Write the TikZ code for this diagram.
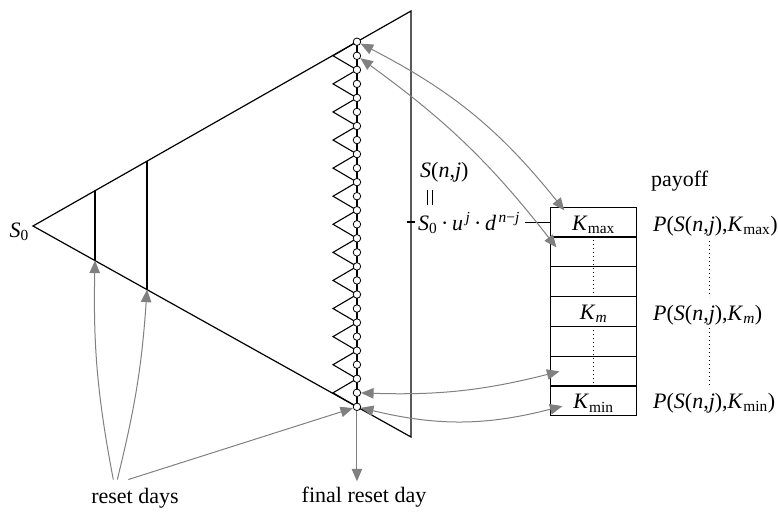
\documentclass[tikz,border=0pt]{standalone}
\usepackage{fontspec}
\setmainfont{Liberation Serif}
\usetikzlibrary{arrows.meta,calc}
\definecolor{arrgray}{gray}{0.5}
\begin{document}
\begin{tikzpicture}[x=1pt,y=-1pt, font=\fontsize{22}{26}\selectfont,
 edge/.style={line width=1.2pt},
 thin edge/.style={line width=1.1pt},
 tip/.style={Triangle[length=12.5pt,width=10.5pt]},
 arr/.style={draw=arrgray, line width=1pt, -{Triangle[length=12.5pt,width=10.5pt]}},
 arr2/.style={draw=arrgray, line width=1pt, {Triangle[length=12.5pt,width=10.5pt]}-{Triangle[length=12.5pt,width=10.5pt]}},
 dotnode/.style={circle, draw, fill=white, line width=0.8pt, minimum size=7.5pt, inner sep=0pt},
 cell/.style={draw, line width=1.2pt, minimum width=86pt, minimum height=29.8pt, inner sep=0pt, text height=16pt, text depth=0pt},
 dotline/.style={line width=0.7pt, dash pattern=on 0.7pt off 3.3pt},
 lbl/.style={inner sep=0pt}]
\useasboundingbox (0,0) rectangle (778,511);

% triangle
\coordinate (A) at (33,226);
\coordinate (T) at (411,11);
\coordinate (B) at (411,437);
\draw[edge] (T) -- (A) -- (B) -- cycle;

% reset lines
\coordinate (R1t) at ($(A)!0.164!(T)$);
\coordinate (R1b) at ($(A)!0.164!(B)$);
\coordinate (R2t) at ($(A)!0.3016!(T)$);
\coordinate (R2b) at ($(A)!0.3016!(B)$);
\draw[edge] (R1t) -- (R1b);
\draw[edge] (R2t) -- (R2b);

% column of nodes
\coordinate (CT) at ($(A)!0.857!(T)$);
\coordinate (CB) at ($(A)!0.857!(B)$);
\coordinate (LT) at ($(A)!0.7937!(T)$);
\foreach \k in {0,...,26} \coordinate (p\k) at ($(CT)!{\k/26}!(CB)$);
\draw[edge] (CT) -- (CB);
\draw[thin edge, line join=miter] (p0) \foreach \k [evaluate=\k as \n using int(\k+1)] in {1,3,...,25} { -- (LT |- p\k) -- (p\n) };
\foreach \k in {0,...,26} \node[dotnode] (c\k) at (p\k) {};

% S0
\node[lbl, anchor=base east] (s0) at (29,237) {\textit{S}\textsubscript{0}};

% S(n,j) labels
\node[lbl, anchor=base west] (snj) at (420,177) {\textit{S}(\textit{n},\textit{j})};
\draw[line width=0.9pt] (427,190) -- (427,205) (432,190) -- (432,205);
\node[lbl, anchor=base west] (form) at (418,230) {\textit{S}\textsubscript{0}\,·\,\textit{u}\textsuperscript{\,\textit{j}}\,·\,\textit{d}\textsuperscript{\,\textit{n}−\textit{j}}};
\draw[edge] (407,222) -- (415,222);

% strike table
\foreach \i/\t in {1/{\textit{K}\textsubscript{max}},2/{},3/{},4/{\textit{K}\textsubscript{\textit{m}}},5/{},6/{},7/{\textit{K}\textsubscript{min}}}
  \node[cell] (r\i) at (593.5,{222.1+(\i-1)*29.8}) {\t};
\draw[thin edge] ([xshift=5pt]form.east |- r1.west) -- (r1.west);
\draw[dotline] ([yshift=-4pt]r2.north) -- ([yshift=4pt]r3.south);
\draw[dotline] ([yshift=-4pt]r5.north) -- ([yshift=4pt]r6.south);

% payoff column
\node[lbl, anchor=base west] (po) at (651,186) {payoff};
\node[lbl, anchor=base west] (pmax) at (653,231.7) {\textit{P}(\textit{S}(\textit{n},\textit{j}),\textit{K}\textsubscript{max})};
\node[lbl, anchor=base west] (pm) at (653,320) {\textit{P}(\textit{S}(\textit{n},\textit{j}),\textit{K}\textsubscript{\textit{m}})};
\node[lbl, anchor=base west] (pmin) at (653,408.5) {\textit{P}(\textit{S}(\textit{n},\textit{j}),\textit{K}\textsubscript{min})};
\draw[dotline] (709,241) -- (709,297);
\draw[dotline] (709,328) -- (709,385);

% bottom labels
\node[lbl, inner ysep=8pt, anchor=base] (rd) at (135,503) {reset days};
\node[lbl, inner ysep=5pt, anchor=base] (frd) at (364,502) {final reset day};

% arrows
\draw[arr2] (c0) to[bend left=12] ([shift={(14.5,3.8)}]r1.north west);
\draw[arr2] (c1) to[bend left=8] ([shift={(6.5,11)}]r2.north west);
\draw[arr2] (c25) to[bend right=8] ([shift={(9.5,15.8)}]r6.north west);
\draw[arr2] (c26) to[bend right=14] ([shift={(12.5,20.7)}]r7.north west);

\draw[arr] ([xshift=-21.7pt]rd.north) to[bend left=6] (R1b);
\draw[arr] ([xshift=-17.7pt]rd.north) to[bend right=5] (R2b);
\draw[arr] ([xshift=-6.7pt]rd.north) -- (c26);
\draw[arr] (c26) -- (c26 |- frd.north);
\end{tikzpicture}
\end{document}
